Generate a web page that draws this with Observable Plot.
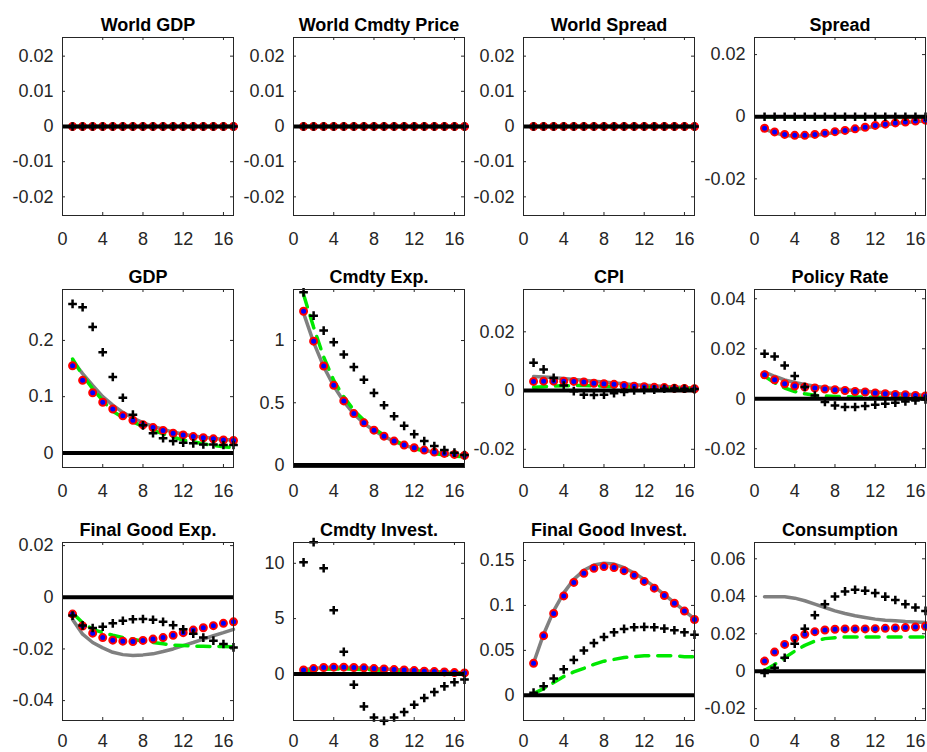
<!DOCTYPE html>
<html>
<head>
<meta charset="utf-8">
<script src="https://cdn.jsdelivr.net/npm/d3@7"></script>
<script src="https://cdn.jsdelivr.net/npm/@observablehq/plot@0.6"></script>
<style>
  html, body { margin: 0; padding: 0; background: #fff; overflow: hidden; }
  #fig { position: relative; width: 927px; height: 752px; font-family: "Liberation Sans", Arial, sans-serif; }
  #fig svg { position: absolute; overflow: visible; }
</style>
</head>
<body>
<div id="fig"></div>
<script>
// ---------------- DATA ----------------
const periods = [1,2,3,4,5,6,7,8,9,10,11,12,13,14,15,16,17];
const xTicks = [0, 4, 8, 12, 16];

const titles = ["World GDP", "World Cmdty Price", "World Spread", "Spread",
                "GDP", "Cmdty Exp.", "CPI", "Policy Rate",
                "Final Good Exp.", "Cmdty Invest.", "Final Good Invest.", "Consumption"];

const yDomains = [
  [-0.0253, 0.0253], [-0.0253, 0.0253], [-0.0253, 0.0253], [-0.0318, 0.0255],
  [-0.026, 0.2906], [-0.02, 1.41], [-0.0262, 0.0344], [-0.0275, 0.0437],
  [-0.0477, 0.0212], [-4.21, 11.88], [-0.028, 0.170], [-0.0263, 0.0687]
];

const yTickSets = [
  [-0.02, -0.01, 0, 0.01, 0.02], [-0.02, -0.01, 0, 0.01, 0.02], [-0.02, -0.01, 0, 0.01, 0.02], [-0.02, 0, 0.02],
  [0, 0.1, 0.2], [0, 0.5, 1], [-0.02, 0, 0.02], [-0.02, 0, 0.02, 0.04],
  [-0.04, -0.02, 0, 0.02], [0, 5, 10], [0, 0.05, 0.1, 0.15], [-0.02, 0, 0.02, 0.04, 0.06]
];

const zeroSeries = [0,0,0,0,0,0,0,0,0,0,0,0,0,0,0,0,0];

// Spread
const spreadPlus  = [0,0,0,0,0,0,0,0,0,0,0,0,0,0,0,0,0];
const spreadModel = [-0.0037,-0.0049,-0.0057,-0.0060,-0.0060,-0.0057,-0.0053,-0.0048,-0.0044,-0.0039,-0.0034,-0.0028,-0.0024,-0.0020,-0.0017,-0.0014,-0.0011];
const spreadGray  = [-0.0040,-0.0052,-0.0060,-0.0063,-0.0063,-0.0060,-0.0056,-0.0051,-0.0046,-0.0041,-0.0036,-0.0031,-0.0026,-0.0022,-0.0019,-0.0016,-0.0013];
const spreadGreen = [0,0,0,0,0,0,0,0,0,0,0,0,0,0,0,0,0];

// GDP
const gdpPlus  = [0.265,0.259,0.224,0.179,0.135,0.098,0.068,0.049,0.035,0.026,0.021,0.018,0.017,0.015,0.015,0.014,0.014];
const gdpModel = [0.155,0.129,0.107,0.090,0.078,0.066,0.058,0.050,0.045,0.040,0.035,0.032,0.029,0.027,0.025,0.023,0.022];
const gdpGray  = [0.164,0.141,0.120,0.100,0.085,0.072,0.062,0.054,0.047,0.042,0.037,0.033,0.030,0.028,0.026,0.024,0.023];
const gdpGreen = [0.167,0.138,0.114,0.093,0.074,0.063,0.055,0.047,0.040,0.034,0.028,0.023,0.020,0.016,0.013,0.011,0.009];

// Cmdty Exp.
const cexpPlus  = [1.387,1.200,1.080,0.987,0.888,0.787,0.685,0.579,0.480,0.392,0.315,0.248,0.192,0.152,0.120,0.099,0.080];
const cexpModel = [1.235,0.995,0.795,0.640,0.515,0.413,0.339,0.280,0.232,0.192,0.160,0.139,0.120,0.104,0.093,0.085,0.077];
const cexpGray  = [1.220,0.985,0.790,0.635,0.510,0.410,0.335,0.277,0.230,0.190,0.158,0.136,0.118,0.103,0.092,0.083,0.076];
const cexpGreen = [1.370,1.107,0.867,0.680,0.547,0.440,0.360,0.293,0.240,0.200,0.160,0.133,0.112,0.093,0.080,0.072,0.067];

// CPI
const cpiPlus  = [0.0095,0.0072,0.0043,0.0017,-0.0002,-0.0014,-0.0015,-0.0014,-0.0009,-0.0005,0.0000,0.0002,0.0003,0.0006,0.0007,0.0006,0.0005];
const cpiModel = [0.0031,0.0032,0.0032,0.0032,0.0031,0.0029,0.0025,0.0023,0.0021,0.0017,0.0015,0.0013,0.0011,0.0010,0.0008,0.0007,0.0006];
const cpiGray  = [0.0048,0.0046,0.0044,0.0041,0.0038,0.0035,0.0032,0.0029,0.0026,0.0023,0.0020,0.0018,0.0016,0.0014,0.0012,0.0010,0.0009];
const cpiGreen = [0.0011,0.0013,0.0015,0.0016,0.0017,0.0017,0.0016,0.0015,0.0014,0.0013,0.0012,0.0011,0.0010,0.0009,0.0008,0.0007,0.0006];

// Policy Rate
const rPlus  = [0.0180,0.0169,0.0133,0.0091,0.0047,0.0013,-0.0013,-0.0027,-0.0033,-0.0033,-0.0029,-0.0024,-0.0020,-0.0016,-0.0011,-0.0007,-0.0003];
const rModel = [0.0096,0.0076,0.0060,0.0051,0.0047,0.0043,0.0039,0.0036,0.0033,0.0029,0.0027,0.0023,0.0020,0.0017,0.0016,0.0013,0.0011];
const rGray  = [0.0107,0.0090,0.0075,0.0065,0.0057,0.0050,0.0045,0.0040,0.0036,0.0033,0.0030,0.0027,0.0024,0.0021,0.0018,0.0016,0.0013];
const rGreen = [0.0090,0.0064,0.0043,0.0029,0.0020,0.0014,0.0011,0.0009,0.0008,0.0007,0.0007,0.0006,0.0006,0.0006,0.0005,0.0005,0.0005];

// Final Good Exp.
const fexpPlus  = [-0.0071,-0.0109,-0.0119,-0.0114,-0.0101,-0.0091,-0.0085,-0.0084,-0.0087,-0.0095,-0.0108,-0.0124,-0.0141,-0.0156,-0.0168,-0.0181,-0.0194];
const fexpModel = [-0.0065,-0.0111,-0.0139,-0.0156,-0.0166,-0.0170,-0.0171,-0.0167,-0.0162,-0.0156,-0.0147,-0.0137,-0.0127,-0.0118,-0.0110,-0.0101,-0.0095];
const fexpGray  = [-0.0086,-0.0143,-0.0175,-0.0196,-0.0213,-0.0222,-0.0225,-0.0223,-0.0219,-0.0210,-0.0200,-0.0187,-0.0175,-0.0162,-0.0149,-0.0137,-0.0124];
const fexpGreen = [-0.0061,-0.0099,-0.0124,-0.0137,-0.0147,-0.0156,-0.0162,-0.0170,-0.0175,-0.0180,-0.0185,-0.0187,-0.0189,-0.0190,-0.0191,-0.0191,-0.0192];

// Cmdty Invest.
const cinvPlus  = [10.09,11.91,9.55,5.76,2.00,-0.97,-2.94,-3.94,-4.24,-3.94,-3.45,-2.79,-2.18,-1.64,-1.12,-0.75,-0.51];
const cinvModel = [0.36,0.48,0.58,0.61,0.61,0.58,0.55,0.48,0.45,0.39,0.36,0.30,0.24,0.21,0.18,0.12,0.09];
const cinvGray  = [0.40,0.50,0.58,0.61,0.61,0.59,0.55,0.50,0.45,0.40,0.35,0.30,0.25,0.21,0.17,0.13,0.10];
const cinvGreen = [0.28,0.36,0.42,0.45,0.45,0.43,0.40,0.36,0.32,0.28,0.25,0.21,0.18,0.15,0.13,0.11,0.09];

// Final Good Invest.
const finvPlus  = [0.0030,0.0101,0.0187,0.0289,0.0394,0.0499,0.0581,0.0649,0.0701,0.0739,0.0757,0.0761,0.0757,0.0742,0.0724,0.0701,0.0675];
const finvModel = [0.0356,0.0664,0.0911,0.1106,0.1256,0.1357,0.1414,0.1432,0.1421,0.1387,0.1335,0.1267,0.1192,0.1110,0.1024,0.0937,0.0844];
const finvGray  = [0.0360,0.0680,0.0940,0.1140,0.1290,0.1390,0.1450,0.1470,0.1460,0.1420,0.1360,0.1290,0.1210,0.1120,0.1030,0.0940,0.0850];
const finvGreen = [0.0019,0.0075,0.0142,0.0210,0.0260,0.0300,0.0345,0.0380,0.0400,0.0420,0.0430,0.0440,0.0440,0.0440,0.0440,0.0430,0.0430];

// Consumption
const consPlus  = [-0.0009,0.0018,0.0072,0.0147,0.0227,0.0299,0.0358,0.0399,0.0426,0.0435,0.0430,0.0417,0.0398,0.0380,0.0358,0.0340,0.0322];
const consModel = [0.0054,0.0102,0.0143,0.0176,0.0197,0.0211,0.0220,0.0224,0.0226,0.0226,0.0226,0.0227,0.0229,0.0231,0.0233,0.0236,0.0240];
const consGray  = [0.0398,0.0398,0.0398,0.0390,0.0376,0.0358,0.0340,0.0322,0.0308,0.0296,0.0287,0.0278,0.0272,0.0269,0.0265,0.0263,0.0260];
const consGreen = [0.0004,0.0036,0.0072,0.0107,0.0138,0.0161,0.0174,0.0179,0.0183,0.0183,0.0183,0.0183,0.0183,0.0183,0.0183,0.0183,0.0183];

const plusSeries  = [zeroSeries, zeroSeries, zeroSeries, spreadPlus, gdpPlus, cexpPlus, cpiPlus, rPlus, fexpPlus, cinvPlus, finvPlus, consPlus];
const modelSeries = [zeroSeries, zeroSeries, zeroSeries, spreadModel, gdpModel, cexpModel, cpiModel, rModel, fexpModel, cinvModel, finvModel, consModel];
const graySeries  = [zeroSeries, zeroSeries, zeroSeries, spreadGray, gdpGray, cexpGray, cpiGray, rGray, fexpGray, cinvGray, finvGray, consGray];
const greenSeries = [zeroSeries, zeroSeries, zeroSeries, spreadGreen, gdpGreen, cexpGreen, cpiGreen, rGreen, fexpGreen, cinvGreen, finvGreen, consGreen];

// ---------------- LAYOUT ----------------
const frameLefts = [62, 292.5, 523, 754];
const frameTops = [37, 289, 542];
const xLabelPads = [17, 17, 14];
const FW = 171, FH = 178;
const ML = 62, MT = 40, MR = 1, MB = 34;
const axisColor = "#262626";
const fontFamily = '"Liberation Sans", Arial, Helvetica, sans-serif';

const fig = document.getElementById("fig");

titles.forEach((title, i) => {
  const row = Math.floor(i / 4), col = i % 4;
  const rows = periods.map((p, k) => ({
    x: p,
    plus: plusSeries[i][k],
    model: modelSeries[i][k],
    gray: graySeries[i][k],
    green: greenSeries[i][k]
  }));
  const yt = yTickSets[i];
  const chart = Plot.plot({
    width: ML + FW + MR,
    height: MT + FH + MB,
    marginLeft: ML, marginRight: MR, marginTop: MT, marginBottom: MB,
    style: { fontFamily, fontSize: "18px", color: axisColor, background: "transparent", overflow: "visible" },
    x: { domain: [0, 17] },
    y: { domain: yDomains[i] },
    marks: [
      Plot.axisX(xTicks, { anchor: "bottom", tickSize: 0, tickPadding: xLabelPads[row], fontSize: 18, fill: axisColor, label: null, tickFormat: d => String(d) }),
      Plot.axisY(yt, { anchor: "left", tickSize: 0, tickPadding: 9, fontSize: 18, fill: axisColor, label: null, tickFormat: d => String(d) }),
      Plot.tickX(xTicks, { x: d => d, insetTop: FH - 3, stroke: axisColor, strokeWidth: 1 }),
      Plot.tickX(xTicks, { x: d => d, insetBottom: FH - 3, stroke: axisColor, strokeWidth: 1 }),
      Plot.tickY(yt, { y: d => d, insetRight: FW - 3, stroke: axisColor, strokeWidth: 1 }),
      Plot.tickY(yt, { y: d => d, insetLeft: FW - 3, stroke: axisColor, strokeWidth: 1 }),
      Plot.line(rows, { x: "x", y: "gray", stroke: "#808080", strokeWidth: 3.5 }),
      Plot.line(rows, { x: "x", y: "green", stroke: "#00e800", strokeWidth: 3.5, strokeDasharray: "13,9" }),
      Plot.dot(rows, { x: "x", y: "model", r: 3.5, fill: "#0000ff", stroke: "#ff0000", strokeWidth: 2 }),
      Plot.ruleY([0], { stroke: "#000", strokeWidth: 4 }),
      Plot.dot(rows, { x: "x", y: "plus", symbol: "plus", r: 2.9, stroke: "#000", strokeWidth: 2.5 }),
      Plot.frame({ stroke: axisColor, strokeWidth: 1 }),
      Plot.text([title], { frameAnchor: "top", lineAnchor: "bottom", dy: -7, text: d => d, fontWeight: "bold", fontSize: 18, fill: "#000" })
    ]
  });
  chart.style.left = (frameLefts[col] - ML) + "px";
  chart.style.top = (frameTops[row] - MT) + "px";
  fig.appendChild(chart);
});
</script>
</body>
</html>
